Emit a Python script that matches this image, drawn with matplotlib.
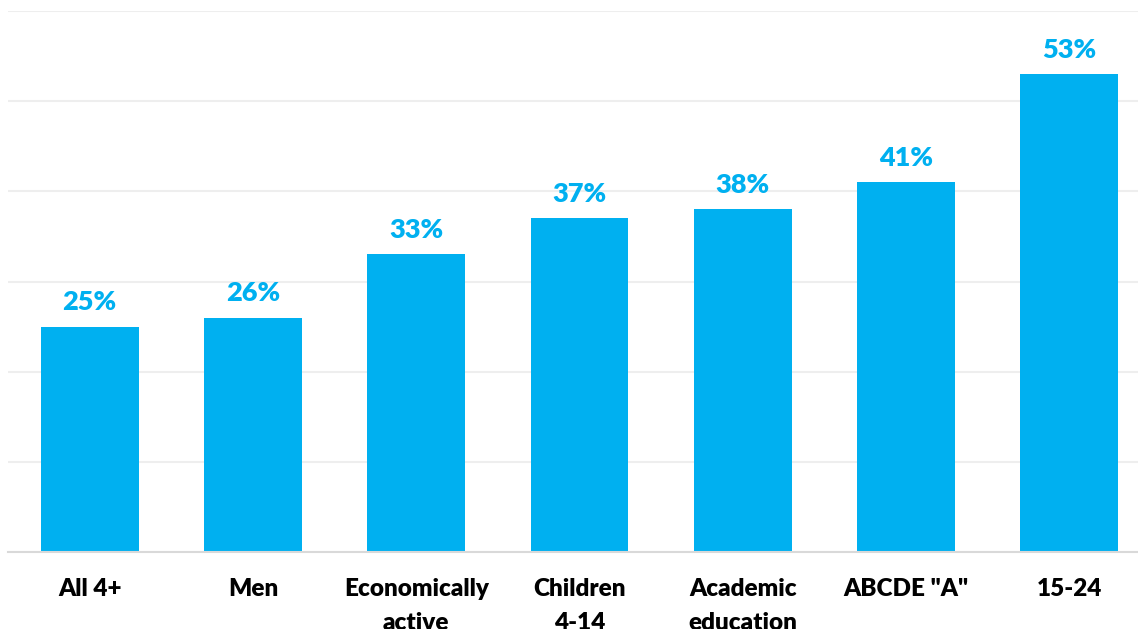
import matplotlib.pyplot as plt

# Share of each group (percent)
groups = ['All 4+', 'Men', 'Economically\nactive', 'Children\n4-14',
          'Academic\neducation', 'ABCDE "A"', '15-24']
values = [25, 26, 33, 37, 38, 41, 53]
yticks = [0, 10, 20, 30, 40, 50, 60]

blue = '#00B0F0'

fig = plt.figure(figsize=(11.38, 6.29), dpi=100)
# axes runs a bit past the right edge, like the cropped original
ax = fig.add_axes([8/1138, 1 - 552/629, 1143/1138, 541/629])

x = range(len(groups))
bars = ax.bar(x, values, width=0.6, color=blue, zorder=2)

for xi, v in zip(x, values):
    ax.annotate(str(v) + '%', (xi, v), xytext=(0, 9), textcoords='offset points',
                ha='center', va='bottom', color=blue, fontsize=19.5,
                fontweight='heavy', family='Lato')

ax.set_xlim(-0.5, 6.5)
ax.set_ylim(0, 60)
ax.set_yticks(yticks)
ax.yaxis.grid(True, color='#EEEEEE', linewidth=1.5, zorder=0)
ax.tick_params(axis='y', left=False, labelleft=False)
ax.tick_params(axis='x', length=0, pad=19)
ax.set_xticks(list(x))
ax.set_xticklabels(groups, fontsize=17.5, fontweight='heavy', family='Lato',
                   linespacing=1.65, va='top')

for side in ['top', 'right', 'left']:
    ax.spines[side].set_visible(False)
ax.spines['bottom'].set_color('#D9D9D9')
ax.spines['bottom'].set_linewidth(1.5)

plt.savefig('out.png', dpi=100)
